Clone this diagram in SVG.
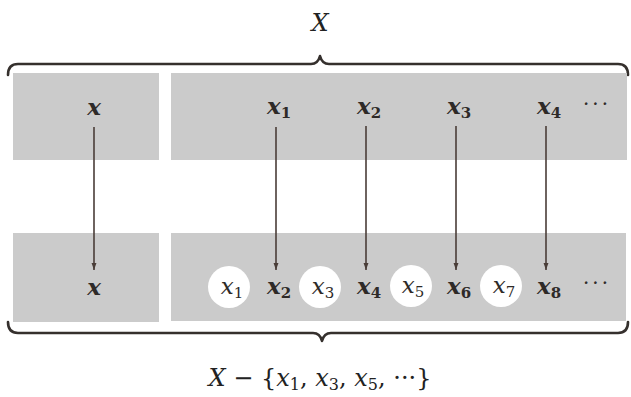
<svg xmlns="http://www.w3.org/2000/svg" width="631" height="397" viewBox="0 0 631 397">
<style>
.band{fill:#cbcbcb}
.lbl{font-family:"DejaVu Serif","Liberation Serif",serif;font-style:italic;font-size:23px;fill:#2e2a28;text-anchor:middle;font-weight:bold}
.lbl2{font-family:"DejaVu Serif","Liberation Serif",serif;font-style:italic;font-size:23px;fill:#2e2a28;text-anchor:middle}
.sub{font-size:15px;font-style:normal}
.dots{font-family:"DejaVu Serif",serif;font-size:20px;fill:#2e2a28;text-anchor:middle;letter-spacing:3px}
.brace{fill:none;stroke:#35302d;stroke-width:2.6;stroke-linejoin:round;stroke-linecap:round}
.arrow{stroke:#4a3d38;stroke-width:1.6;fill:none;marker-end:url(#ah)}
.hole{fill:#ffffff}
.math{font-family:"DejaVu Serif","Liberation Serif",serif;font-size:24px;fill:#222;text-anchor:middle}
</style>
<defs>
<marker id="ah" viewBox="0 0 10 10" refX="10" refY="5" markerWidth="7" markerHeight="11" markerUnits="userSpaceOnUse" orient="auto">
<path d="M0,1.5 L10,5 L0,8.5 Z" fill="#4a3d38"/>
</marker>
</defs>
<rect width="631" height="397" fill="#ffffff"/>

<g id="title-X"><text class="math" x="320" y="31" font-style="italic" font-size="25">X</text></g>

<g id="brace-top"><path class="brace" d="M8,75 Q8,64 18,64 L311,64 Q318,64 320,56 Q322,64 329,64 L618,64 Q628,64 628,75"/></g>

<g id="band-top-left"><rect class="band" x="13" y="73" width="146" height="87"/></g>
<g id="band-top-right"><rect class="band" x="171" y="73" width="456" height="87"/></g>
<g id="band-bottom-left"><rect class="band" x="13" y="233" width="146" height="89"/></g>
<g id="band-bottom-right"><rect class="band" x="171" y="233" width="455" height="88"/></g>

<g id="brace-bottom"><path class="brace" d="M8,322 Q8,333 18,333 L313,333 Q320,333 322,341 Q324,333 331,333 L618,333 Q628,333 628,322"/></g>

<g id="node-x-top"><text class="lbl" x="94" y="115">x</text></g>
<g id="node-x1-top"><text class="lbl" x="279" y="114">x<tspan class="sub" dy="4">1</tspan></text></g>
<g id="node-x2-top"><text class="lbl" x="369" y="114">x<tspan class="sub" dy="4">2</tspan></text></g>
<g id="node-x3-top"><text class="lbl" x="459" y="114">x<tspan class="sub" dy="4">3</tspan></text></g>
<g id="node-x4-top"><text class="lbl" x="549" y="114">x<tspan class="sub" dy="4">4</tspan></text></g>
<g id="dots-top"><text class="dots" x="597" y="111">···</text></g>

<g id="node-x-bottom"><text class="lbl" x="94" y="295">x</text></g>
<g id="node-x1-bottom"><circle class="hole" cx="229" cy="287" r="21"/><text class="lbl2" x="232" y="294">x<tspan class="sub" dy="4">1</tspan></text></g>
<g id="node-x2-bottom"><text class="lbl" x="279" y="294">x<tspan class="sub" dy="4">2</tspan></text></g>
<g id="node-x3-bottom"><circle class="hole" cx="320" cy="287" r="21"/><text class="lbl2" x="323" y="294">x<tspan class="sub" dy="4">3</tspan></text></g>
<g id="node-x4-bottom"><text class="lbl" x="369" y="294">x<tspan class="sub" dy="4">4</tspan></text></g>
<g id="node-x5-bottom"><circle class="hole" cx="411" cy="286" r="21"/><text class="lbl2" x="413" y="293">x<tspan class="sub" dy="4">5</tspan></text></g>
<g id="node-x6-bottom"><text class="lbl" x="459" y="294">x<tspan class="sub" dy="4">6</tspan></text></g>
<g id="node-x7-bottom"><circle class="hole" cx="501" cy="286" r="21"/><text class="lbl2" x="504" y="293">x<tspan class="sub" dy="4">7</tspan></text></g>
<g id="node-x8-bottom"><text class="lbl" x="549" y="294">x<tspan class="sub" dy="4">8</tspan></text></g>
<g id="dots-bottom"><text class="dots" x="597" y="290">···</text></g>

<g id="connectors">
<line class="arrow" x1="94" y1="127" x2="94" y2="270"/>
<line class="arrow" x1="276" y1="127" x2="276" y2="270"/>
<line class="arrow" x1="366" y1="126" x2="366" y2="270"/>
<line class="arrow" x1="456" y1="126" x2="456" y2="270"/>
<line class="arrow" x1="546" y1="126" x2="546" y2="270"/>
</g>

<g id="caption"><text class="math" x="320" y="386"><tspan font-style="italic">X</tspan> − {<tspan font-style="italic">x</tspan><tspan font-size="16" dy="4">1</tspan><tspan dy="-4">, </tspan><tspan font-style="italic">x</tspan><tspan font-size="16" dy="4">3</tspan><tspan dy="-4">, </tspan><tspan font-style="italic">x</tspan><tspan font-size="16" dy="4">5</tspan><tspan dy="-4">, ···}</tspan></text></g>
</svg>
